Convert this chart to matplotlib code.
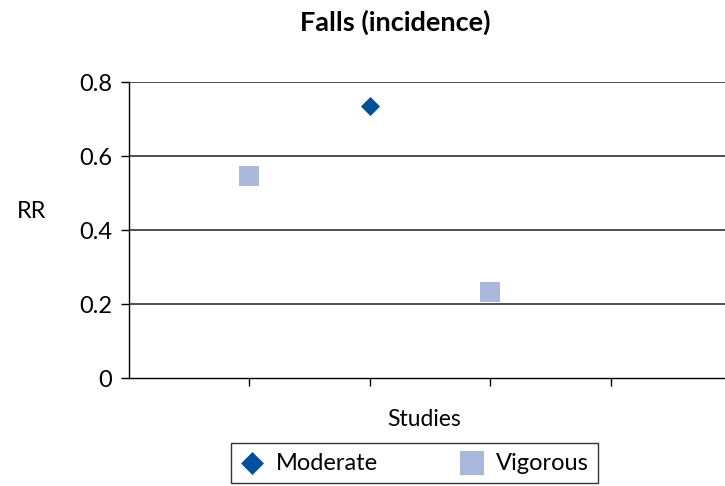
import matplotlib.pyplot as plt

plt.rcParams['font.family'] = ['Lato', 'DejaVu Sans']

# study positions on the x axis and relative risks
moderate_x = [2]
moderate_rr = [0.735]
vigorous_x = [1, 3]
vigorous_rr = [0.546, 0.232]

yticks = [0, 0.2, 0.4, 0.6, 0.8]

fig = plt.figure(figsize=(7.25, 4.86), dpi=100)
ax = fig.add_axes([0.178, 0.222, 0.822, 0.609])

for y in yticks[1:]:
    ax.axhline(y, color='#404040', lw=1.3, zorder=1)

ax.scatter(moderate_x, moderate_rr, marker='D', s=95, color='#00509E',
           label='Moderate', zorder=3, linewidths=0)
ax.scatter(vigorous_x, vigorous_rr, marker='s', s=200, color='#A9B8DC',
           label='Vigorous', zorder=3, linewidths=0)

ax.set_xlim(0, 4.95)
ax.set_ylim(0, 0.8)
ax.set_yticks(yticks)
ax.set_yticklabels(['0', '0.2', '0.4', '0.6', '0.8'])
ax.set_xticks([1, 2, 3, 4])
ax.set_xticklabels([])
ax.tick_params(axis='y', direction='out', length=6, width=1, labelsize=17, pad=6, colors='black')
ax.tick_params(axis='x', direction='out', length=6, width=1)

for s in ['top', 'right']:
    ax.spines[s].set_visible(False)
ax.spines['left'].set_linewidth(1)
ax.spines['bottom'].set_linewidth(1)
ax.spines['bottom'].set_zorder(2)

fig.text(0.545, 0.955, 'Falls (incidence)', ha='center', va='center',
         fontsize=19.5, fontweight='bold')
fig.text(0.585, 0.136, 'Studies', ha='center', va='center', fontsize=16.5)
fig.text(0.043, 0.564, 'RR', ha='center', va='center', fontsize=17)

leg = fig.legend(loc='center', bbox_to_anchor=(0.572, 0.047), ncol=2,
                 frameon=True, fancybox=False, edgecolor='black',
                 fontsize=17, columnspacing=3.5, handletextpad=0.5,
                 borderpad=0.4, handlelength=1.0, markerscale=1.2)
leg.get_frame().set_linewidth(1)

fig.savefig('out.png', dpi=100)
